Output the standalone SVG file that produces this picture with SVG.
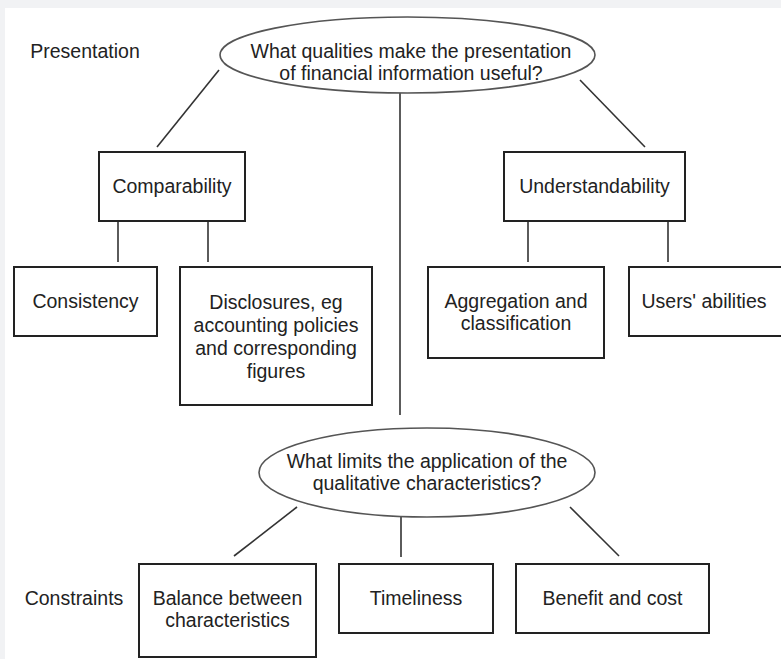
<svg xmlns="http://www.w3.org/2000/svg" width="781" height="659" viewBox="0 0 781 659">
<style>
text{font-family:"Liberation Sans",Arial,sans-serif;font-size:19.5px;fill:#222;text-anchor:middle}
.box{fill:#fff;stroke:#222;stroke-width:2}
.ell{fill:#fff;stroke:#555;stroke-width:1.6}
.con line{stroke:#333;stroke-width:1.6}
</style>
<rect x="0" y="0" width="781" height="659" fill="#f1f2f4"/>
<rect x="5" y="8" width="776" height="651" fill="#fff"/>
<g class="con">
<line x1="219" y1="70" x2="157" y2="147"/>
<line x1="580" y1="80" x2="645" y2="147"/>
<line x1="400" y1="93" x2="400" y2="415"/>
<line x1="118" y1="221" x2="118" y2="262"/>
<line x1="208" y1="221" x2="208" y2="262"/>
<line x1="528" y1="221" x2="528" y2="262"/>
<line x1="668" y1="221" x2="668" y2="262"/>
<line x1="297" y1="507" x2="234" y2="556"/>
<line x1="401" y1="517" x2="401" y2="557"/>
<line x1="570" y1="507" x2="619" y2="556"/>
</g>
<text x="85" y="58">Presentation</text>
<text x="74" y="605">Constraints</text>
<g id="q1">
<ellipse class="ell" cx="407.5" cy="55" rx="187.5" ry="38"/>
<text x="411" y="58">What qualities make the presentation</text>
<text x="411" y="80">of financial information useful?</text>
</g>
<g id="comparability">
<rect class="box" x="99" y="152" width="146" height="69"/>
<text x="172" y="193">Comparability</text>
</g>
<g id="consistency">
<rect class="box" x="14" y="267" width="143" height="69"/>
<text x="85.5" y="308">Consistency</text>
</g>
<g id="disclosures">
<rect class="box" x="180" y="267" width="192" height="138"/>
<text x="276" y="309">Disclosures, eg</text>
<text x="276" y="332">accounting policies</text>
<text x="276" y="355">and corresponding</text>
<text x="276" y="378">figures</text>
</g>
<g id="understandability">
<rect class="box" x="504" y="152" width="181" height="69"/>
<text x="594.5" y="193">Understandability</text>
</g>
<g id="aggregation">
<rect class="box" x="428" y="267" width="176" height="91"/>
<text x="516" y="308">Aggregation and</text>
<text x="516" y="330">classification</text>
</g>
<g id="users">
<rect class="box" x="629" y="267" width="154" height="69"/>
<text x="704" y="308">Users' abilities</text>
</g>
<g id="q2">
<ellipse class="ell" cx="427" cy="472.5" rx="168" ry="44.5"/>
<text x="427" y="468">What limits the application of the</text>
<text x="427" y="490">qualitative characteristics?</text>
</g>
<g id="balance">
<rect class="box" x="139" y="564" width="177" height="93"/>
<text x="227.5" y="605">Balance between</text>
<text x="227.5" y="627">characteristics</text>
</g>
<g id="timeliness">
<rect class="box" x="339" y="564" width="154" height="69"/>
<text x="416" y="605">Timeliness</text>
</g>
<g id="benefit">
<rect class="box" x="516" y="564" width="193" height="69"/>
<text x="612.5" y="605">Benefit and cost</text>
</g>
</svg>
